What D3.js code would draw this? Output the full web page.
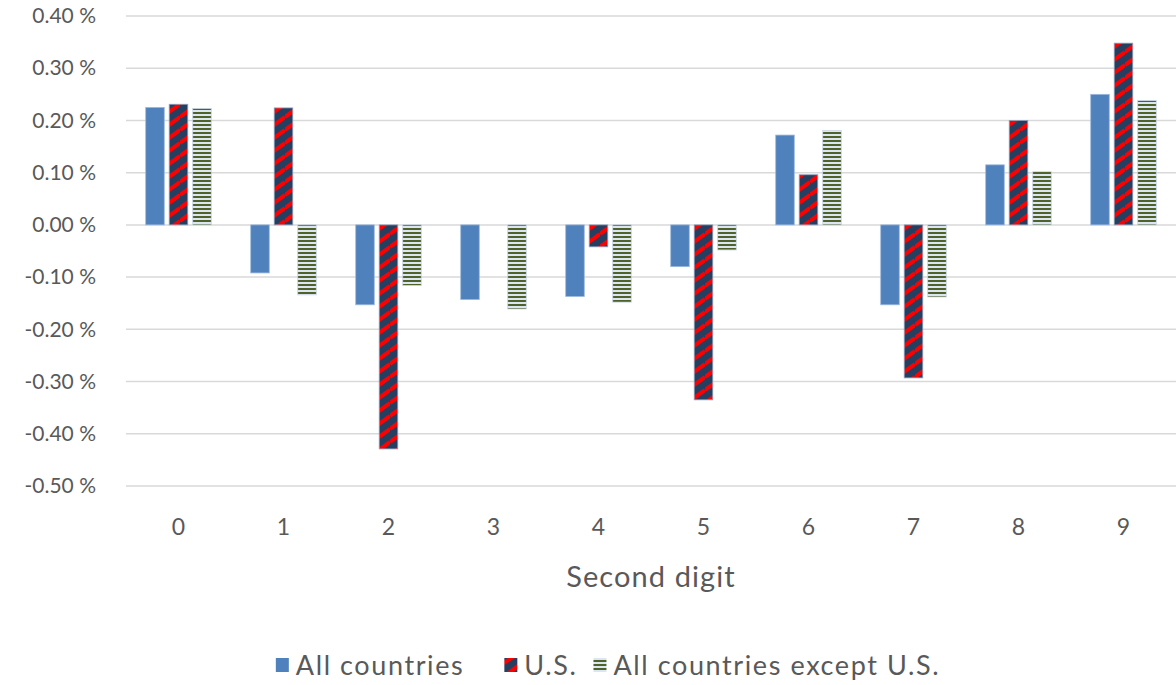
<!DOCTYPE html>
<html>
<head>
<meta charset="utf-8">
<script src="https://cdn.jsdelivr.net/npm/d3@7"></script>
<style>
  html, body { margin: 0; padding: 0; background: #fff; }
  svg { display: block; }
  text { font-family: Lato, "Open Sans", sans-serif; fill: #595959; }
</style>
</head>
<body>
<svg id="chart" width="1176" height="685"></svg>
<script>
// Deviation from expected second-digit frequency, in percent
const digits = ["0", "1", "2", "3", "4", "5", "6", "7", "8", "9"];
const seriesNames = ["All countries", "U.S.", "All countries except U.S."];
const allCountries = [0.225, -0.092, -0.153, -0.143, -0.137, -0.080, 0.172, -0.153, 0.115, 0.250];
const us = [0.231, 0.224, -0.429, 0.000, -0.042, -0.335, 0.096, -0.293, 0.200, 0.348];
const exceptUS = [0.223, -0.134, -0.116, -0.161, -0.148, -0.048, 0.181, -0.138, 0.102, 0.238];
const yTicks = [0.4, 0.3, 0.2, 0.1, 0, -0.1, -0.2, -0.3, -0.4, -0.5];
const xTitle = "Second digit";

const seriesValues = [allCountries, us, exceptUS];

const svg = d3.select("#chart");
const defs = svg.append("defs");

// U.S.: navy with red upward diagonal stripes
{
  const w = 18, h = 13;
  const p = defs.append("pattern").attr("id", "pat-us")
    .attr("patternUnits", "userSpaceOnUse").attr("width", w).attr("height", h);
  p.append("rect").attr("width", w).attr("height", h).attr("fill", "#243F60");
  [-1, 0, 1].forEach(k => {
    p.append("line")
      .attr("x1", 0).attr("y1", h + k * h)
      .attr("x2", w).attr("y2", k * h)
      .attr("stroke", "#FF0000").attr("stroke-width", 4);
  });
}
// All countries except U.S.: olive horizontal lines on pale blue
{
  const p = defs.append("pattern").attr("id", "pat-ex")
    .attr("patternUnits", "userSpaceOnUse").attr("width", 8).attr("height", 4);
  p.append("rect").attr("width", 8).attr("height", 4).attr("fill", "#DCE6F2");
  p.append("rect").attr("y", 0).attr("width", 8).attr("height", 2).attr("fill", "#4F6228");
}

const fills = ["#4F81BD", "url(#pat-us)", "url(#pat-ex)"];
const strokes = ["#9DB9DE", "#8FA3BF", "#C9D6E6"];

const plot = { left: 126, right: 1176, top: 16, bottom: 486 };

const x0 = d3.scaleBand().domain(digits).range([plot.left, plot.right]).padding(0);
const bw = x0.bandwidth();
const x1 = d3.scaleBand().domain(d3.range(3))
  .range([bw * 0.1643, bw * 0.8357])
  .paddingInner(0.21).paddingOuter(0.105);
const y = d3.scaleLinear().domain([-0.5, 0.4]).range([plot.bottom, plot.top]);

// Horizontal gridlines
svg.append("g")
  .selectAll("line").data(yTicks).join("line")
  .attr("x1", plot.left).attr("x2", plot.right)
  .attr("y1", d => y(d)).attr("y2", d => y(d))
  .attr("stroke", "#D9D9D9").attr("stroke-width", 1.5);

// Y axis labels
const yAxis = d3.axisLeft(y).tickValues(yTicks)
  .tickSize(0).tickPadding(0)
  .tickFormat(d => d.toFixed(2) + " %");
const yg = svg.append("g").attr("transform", `translate(96,0)`).call(yAxis);
yg.select(".domain").remove();
yg.selectAll("text").attr("font-size", 21).attr("fill", "#595959")
  .style("font-family", "Lato, 'Open Sans', sans-serif");

// Bars
const groups = svg.append("g").selectAll("g").data(digits).join("g")
  .attr("transform", d => `translate(${x0(d)},0)`);
groups.selectAll("rect")
  .data((d, i) => seriesValues.map((vals, s) => ({ s, v: vals[i] })))
  .join("rect")
  .filter(d => d.v !== 0)
  .attr("x", d => x1(d.s))
  .attr("width", x1.bandwidth())
  .attr("y", d => y(Math.max(0, d.v)))
  .attr("height", d => Math.abs(y(d.v) - y(0)))
  .attr("fill", d => fills[d.s])
  .attr("stroke", d => strokes[d.s])
  .attr("stroke-width", 0.8);

// X axis labels
const xAxis = d3.axisBottom(x0).tickSize(0).tickPadding(0);
const xg = svg.append("g").attr("transform", `translate(0,520)`).call(xAxis);
xg.select(".domain").remove();
xg.selectAll("text").attr("font-size", 23).attr("fill", "#595959")
  .attr("dy", "0.35em").attr("y", 7)
  .style("font-family", "Lato, 'Open Sans', sans-serif");

// X axis title
svg.append("text")
  .attr("x", 651).attr("y", 587)
  .attr("text-anchor", "middle").attr("font-size", 29)
  .attr("letter-spacing", 1.1)
  .text(xTitle);

// Legend, laid out from measured label widths and centred
const legend = svg.append("g");
const items = legend.selectAll("g").data(seriesNames).join("g");
items.append("rect")
  .attr("width", 13).attr("height", 14).attr("y", 658)
  .attr("fill", (d, i) => fills[i]);
items.append("text")
  .attr("x", 20).attr("y", 675).attr("font-size", 27)
  .attr("letter-spacing", 1.6)
  .text(d => d);
const widths = [];
items.each(function () {
  widths.push(20 + d3.select(this).select("text").node().getComputedTextLength());
});
const gaps = [40, 16];
const total = d3.sum(widths) + d3.sum(gaps);
let start = 608 - total / 2;
items.attr("transform", (d, i) => {
  const t = `translate(${start},0)`;
  start += widths[i] + (gaps[i] || 0);
  return t;
});
</script>
</body>
</html>
